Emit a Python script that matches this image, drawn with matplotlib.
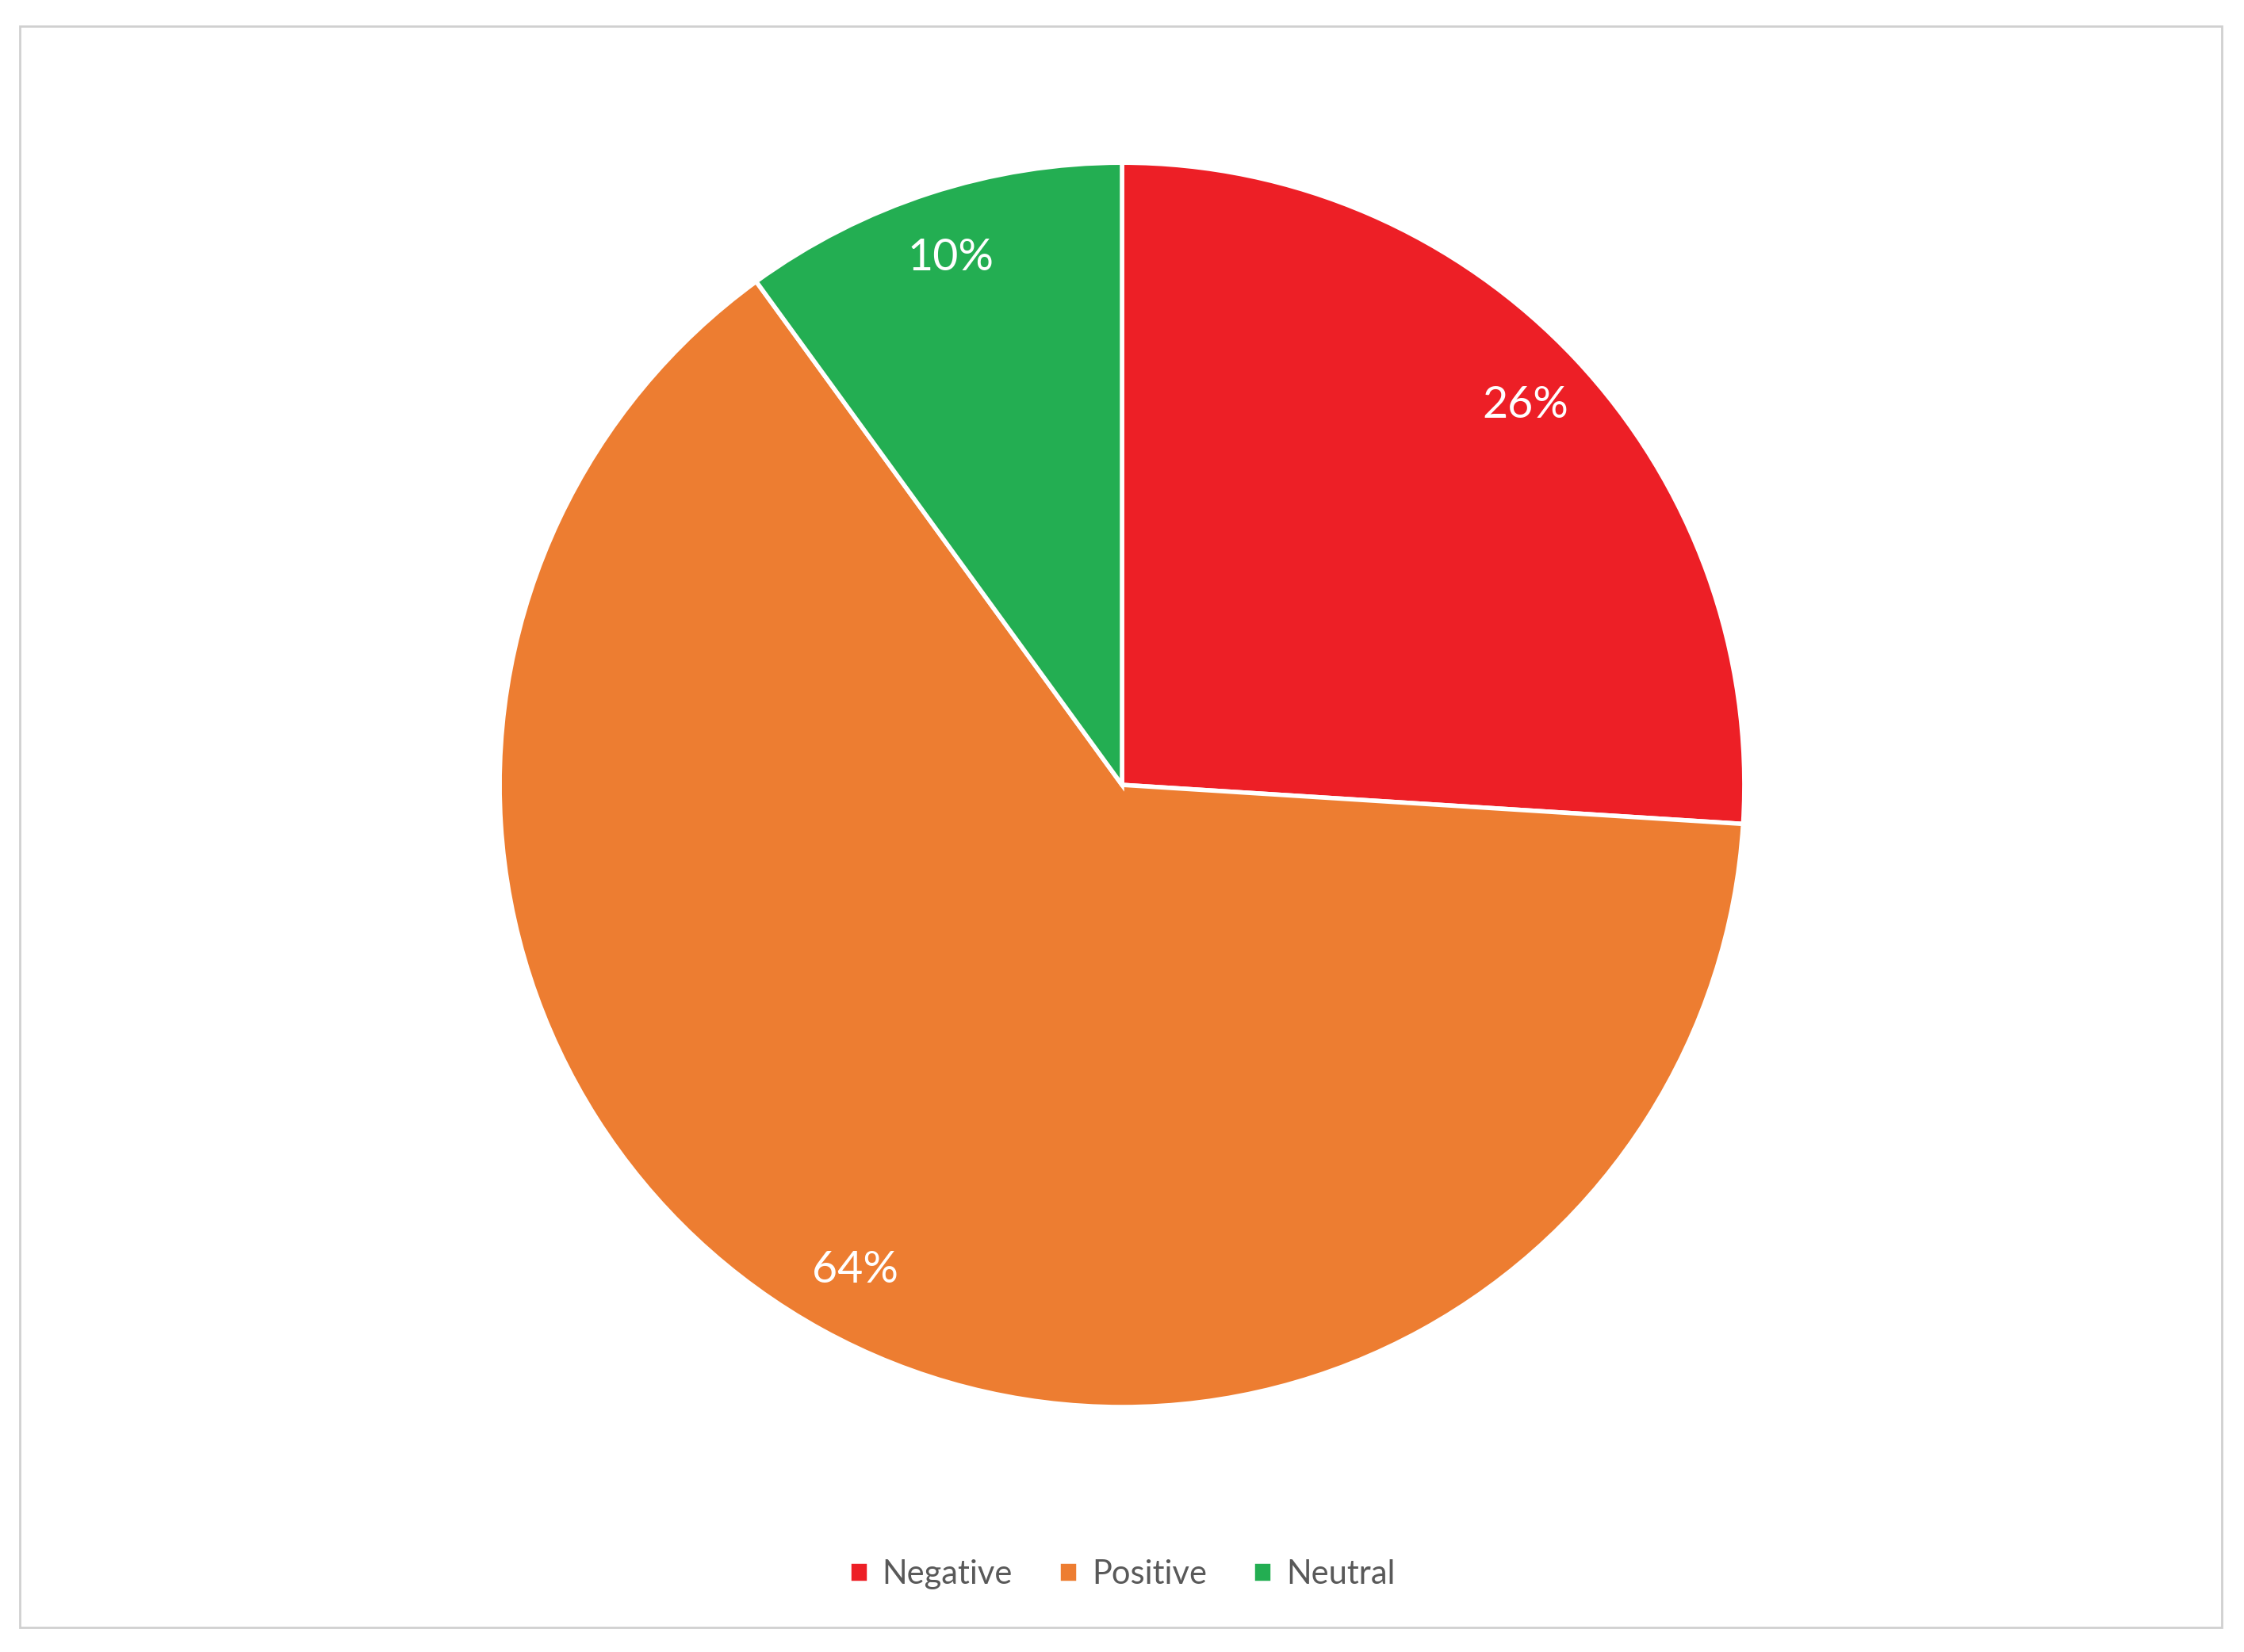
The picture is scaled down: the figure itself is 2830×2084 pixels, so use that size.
import matplotlib.pyplot as plt
from matplotlib.patches import Rectangle

labels = ["Negative", "Positive", "Neutral"]
values = [26, 64, 10]
colors = ["#ED1F26", "#ED7D31", "#23AE52"]

plt.rcParams['font.family'] = ['Lato', 'DejaVu Sans']

fig = plt.figure(figsize=(28.3, 20.84), dpi=100)
fig.patches.append(Rectangle((0.009, 0.015), 0.981, 0.969, transform=fig.transFigure,
                             fill=False, edgecolor="#D0D0D0", linewidth=2))

ax = fig.add_axes([0.2212, 0.1464, 0.5576, 0.757])
wedges, texts, autotexts = ax.pie(values, colors=colors, startangle=90, counterclock=False,
                                  autopct="%d%%", pctdistance=0.89, radius=1,
                                  wedgeprops=dict(edgecolor="white", linewidth=4),
                                  textprops=dict(color="white", fontsize=40))
ax.set_xlim(-1.005, 1.005)
ax.set_ylim(-1.005, 1.005)
ax.set_aspect("equal")

fig.legend(wedges, labels, loc="center", bbox_to_anchor=(0.5, 0.047), ncol=3,
           frameon=False, fontsize=30, handlelength=0.6, handleheight=0.6,
           handletextpad=0.4, columnspacing=1.4, labelcolor="#595959")

fig.savefig("out.png", dpi=100)
